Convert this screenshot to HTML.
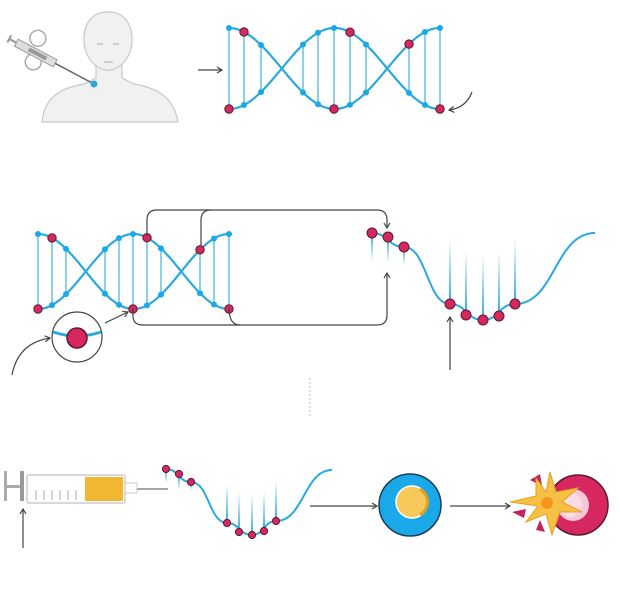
<!DOCTYPE html>
<html><head><meta charset="utf-8"><style>
html,body{margin:0;padding:0;background:#fff;width:620px;height:591px;overflow:hidden}
svg{display:block}
</style></head><body>
<svg id="s" width="620" height="591" viewBox="0 0 620 591" xmlns="http://www.w3.org/2000/svg">
<defs>
<marker id="ah" markerWidth="8" markerHeight="8" refX="6" refY="4" orient="auto" markerUnits="userSpaceOnUse"><path d="M1,1 L6,4 L1,7" fill="none" stroke="#444" stroke-width="1.2"/></marker>
<linearGradient id="fade" x1="0" y1="1" x2="0" y2="0"><stop offset="0" stop-color="#29a9e0"/><stop offset="1" stop-color="#29a9e0" stop-opacity="0"/></linearGradient>
<linearGradient id="fade2" x1="0" y1="0" x2="0" y2="1"><stop offset="0" stop-color="#29a9e0"/><stop offset="1" stop-color="#29a9e0" stop-opacity="0"/></linearGradient>
</defs>
<!-- person -->
<g fill="#f1f1f1" stroke="#c8c8c8" stroke-width="1.2">
<path d="M42,122 C44,98 60,88 84,84 L96,78 L96,60 L122,60 L122,78 L134,84 C158,88 174,98 178,122 Z"/>
<path d="M108,12 C124,12 133,24 132,42 C131,58 120,70 108,70 C96,70 85,58 84,42 C83,24 92,12 108,12 Z"/>
</g>
<g stroke="#aaa" stroke-width="1" fill="none">
<path d="M97,44 h6 M113,44 h6 M104,62 h9"/>
</g>
<!-- syringe top -->
<g transform="translate(94,84) rotate(28)">
<circle cx="-71" cy="-14" r="8" fill="#fff" stroke="#aaa" stroke-width="1.5"/>
<circle cx="-64" cy="9" r="8" fill="#fff" stroke="#aaa" stroke-width="1.5"/>
<rect x="-88" y="-4" width="44" height="8" fill="#ddd" stroke="#999"/>
<rect x="-74" y="-2" width="20" height="4" fill="#999"/>
<line x1="-96" y1="0" x2="-88" y2="0" stroke="#999" stroke-width="2"/>
<line x1="-96" y1="-4" x2="-96" y2="4" stroke="#999" stroke-width="2"/>
<line x1="-44" y1="0" x2="0" y2="0" stroke="#666" stroke-width="1.5"/>
</g>
<circle cx="94" cy="84" r="3.5" fill="#29a9e0"/>
<line x1="198" y1="70" x2="222" y2="70" stroke="#444" stroke-width="1.2" marker-end="url(#ah)"/>
<path d="M472,92 Q466,108 449,110" fill="none" stroke="#444" stroke-width="1.2" marker-end="url(#ah)"/>
<g id="dyn"></g>
<!-- brackets -->
<g fill="none" stroke="#444" stroke-width="1.2">
<path d="M147,236 V220 Q147,210 157,210 H377 Q387,210 387,220 V228" marker-end="url(#ah)"/>
<path d="M201,246 V220 Q201,210 211,210"/>
<path d="M133,308 V316 Q133,325 143,325 H377 Q387,325 387,315 V273" marker-end="url(#ah)"/>
<path d="M229,308 Q229,325 240,325"/>
<path d="M105,323 L128,312" marker-end="url(#ah)"/>
<path d="M12,375 Q18,343 50,338" marker-end="url(#ah)"/>
<path d="M450,370 V317" marker-end="url(#ah)"/>
<path d="M23,548 V509" marker-end="url(#ah)"/>
<path d="M310,506 H377" marker-end="url(#ah)"/>
<path d="M450,506 H510" marker-end="url(#ah)"/>
</g>
<line x1="310" y1="378" x2="310" y2="416" stroke="#bbb" stroke-dasharray="2,2"/>
<!-- magnifier -->
<circle cx="77" cy="337" r="25" fill="#fff" stroke="#444" stroke-width="1.2"/>
<path d="M53,332 Q77,340 101,332" fill="none" stroke="#29a9e0" stroke-width="3"/>
<circle cx="77" cy="338" r="10" fill="#d6275f" stroke="#5a1a33" stroke-width="1.5"/>
<!-- syringe bottom -->
<rect x="4" y="471" width="3" height="30" fill="#aaa"/>
<rect x="4" y="485" width="18" height="3" fill="#aaa"/>
<rect x="20" y="471" width="4" height="30" fill="#999"/>
<rect x="27" y="475" width="98" height="28" rx="2" fill="#fff" stroke="#ccc" stroke-width="1.5"/>
<rect x="85" y="477" width="38" height="24" fill="#f2b632"/>
<g stroke="#aaa"><line x1="36" y1="490" x2="36" y2="500"/><line x1="44" y1="490" x2="44" y2="500"/><line x1="52" y1="490" x2="52" y2="500"/><line x1="60" y1="490" x2="60" y2="500"/><line x1="68" y1="490" x2="68" y2="500"/><line x1="76" y1="490" x2="76" y2="500"/></g>
<rect x="125" y="483" width="12" height="10" fill="#fff" stroke="#ccc"/>
<line x1="137" y1="489" x2="168" y2="489" stroke="#888" stroke-width="1.5"/>
<!-- cells -->
<circle cx="410" cy="505" r="31" fill="#19a9e8" stroke="#1c3d5a" stroke-width="1.5"/>
<circle cx="412" cy="502" r="16" fill="#f6c95a" stroke="#fff" stroke-width="1.5"/>
<path d="M420,489 A15,15 0 0 1 420,515" fill="none" stroke="#e0a020" stroke-width="3"/>
<circle cx="578" cy="505" r="30" fill="#d6275f" stroke="#5a1a33" stroke-width="1.5"/>
<circle cx="573" cy="505" r="16" fill="#f7c6d8"/>
<circle cx="570" cy="505" r="12" fill="#fbdbe6"/>
<path d="M530,480 L540,474 L542,486 Z M512,512 L526,509 L524,518 Z M536,530 L540,520 L545,532 Z" fill="#c2245a"/>
<polygon points="550,472 556,492 578,488 562,502 582,512 560,512 552,535 546,514 526,522 538,506 510,502 536,496 536,478 546,492" fill="#f6c045" stroke="#e8a020" stroke-width="1"/>
<circle cx="547" cy="503" r="6" fill="#f7941d"/>
</svg>
<script>
var g=document.getElementById('dyn'),h='';
function helix(x0,x1,yt,yb,rungs,redTop,redBot){
 var P=x1-x0,ym=(yt+yb)/2,A=(yb-yt)/2,a='',b='';
 for(var x=x0;x<=x1+0.1;x+=1){var c=Math.cos(2*Math.PI*(x-x0)/P);a+=(x==x0?'M':'L')+x+','+(ym-A*c).toFixed(1);b+=(x==x0?'M':'L')+x+','+(ym+A*c).toFixed(1);}
 rungs.forEach(function(x){var c=Math.cos(2*Math.PI*(x-x0)/P);var y1=ym-A*c,y2=ym+A*c;h+='<line x1="'+x+'" y1="'+y1+'" x2="'+x+'" y2="'+y2+'" stroke="#4cb8e6" stroke-width="1.3"/>';});
 h+='<path d="'+a+'" fill="none" stroke="#29a9e0" stroke-width="2.2"/><path d="'+b+'" fill="none" stroke="#29a9e0" stroke-width="2.2"/>';
 rungs.forEach(function(x){var c=Math.cos(2*Math.PI*(x-x0)/P);var y1=ym-A*c,y2=ym+A*c;var top=Math.min(y1,y2),bot=Math.max(y1,y2);
  h+=(redTop.indexOf(x)>=0?'<circle cx="'+x+'" cy="'+top+'" r="4.2" fill="#d6275f" stroke="#5a1a33"/>':'<circle cx="'+x+'" cy="'+top+'" r="3" fill="#19a9e8"/>');
  h+=(redBot.indexOf(x)>=0?'<circle cx="'+x+'" cy="'+bot+'" r="4.2" fill="#d6275f" stroke="#5a1a33"/>':'<circle cx="'+x+'" cy="'+bot+'" r="3" fill="#19a9e8"/>');});
}
helix(229,440,28,109,[229,244,261,303,318,334,350,366,409,425,440],[244,350,409],[229,334,440]);
helix(38,229,234,309,[38,52,66,105,119,133,147,161,200,214,229],[52,147,200],[38,133,229]);
function mrna(pts,dots,sc){
 var d='M'+pts[0][0]+','+pts[0][1];
 for(var i=1;i<pts.length;i++){var p=pts[i-1],q=pts[i],mx=(p[0]+q[0])/2;d+=' C'+mx+','+p[1]+' '+mx+','+q[1]+' '+q[0]+','+q[1];}
 h+='<path d="'+d+'" fill="none" stroke="#29a9e0" stroke-width="2"/>';
 dots.forEach(function(p){var L=p[2];if(L>0)h+='<rect x="'+(p[0]-1)+'" y="'+(p[1]-L)+'" width="2" height="'+L+'" fill="url(#fade)"/>';else if(L<0)h+='<rect x="'+(p[0]-1)+'" y="'+p[1]+'" width="2" height="'+(-L)+'" fill="url(#fade2)"/>';});
 dots.forEach(function(p){h+='<circle cx="'+p[0]+'" cy="'+p[1]+'" r="'+sc+'" fill="#d6275f" stroke="#5a1a33"/>';});
}
mrna([[372,233],[404,247],[450,304],[483,320],[515,304],[595,233]],[[372,233,-28],[388,237,-26],[404,247,-18],[450,304,65],[466,315,65],[483,320,65],[499,316,65],[515,304,65]],5);
mrna([[166,469],[191,482],[227,523],[252,535],[276,521],[332,470]],[[166,469,-14],[179,474,-16],[191,482,-8],[227,523,40],[239,532,40],[252,535,40],[264,531,40],[276,521,40]],3.6);
g.innerHTML=h;
</script>
</body></html>
